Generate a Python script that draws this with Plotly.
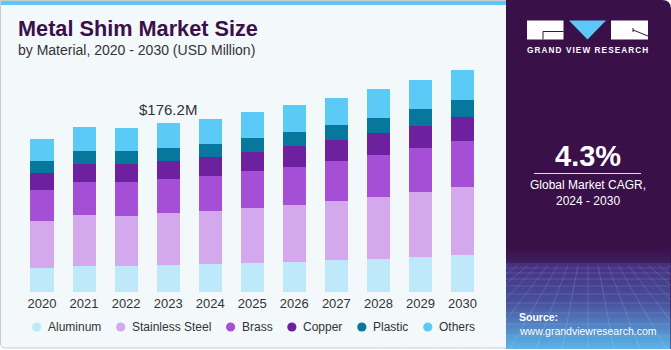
import plotly.graph_objects as go

# ---------------- data ----------------
years = ['2020', '2021', '2022', '2023', '2024', '2025', '2026', '2027', '2028', '2029', '2030']
aluminum = [25.4, 27.2, 27.5, 28.2, 29.2, 30.3, 31.6, 33.4, 34.8, 36.6, 38.6]
stainless_steel = [48.8, 53.0, 52.2, 54.0, 55.0, 57.4, 59.2, 61.3, 64.4, 67.6, 70.7]
brass = [32.4, 34.8, 35.2, 35.8, 36.9, 38.6, 40.0, 42.1, 43.6, 46.0, 48.4]
copper = [17.8, 19.1, 19.1, 19.1, 19.8, 19.8, 21.6, 21.9, 23.3, 23.6, 25.1]
plastic = [12.5, 13.3, 13.0, 13.3, 13.6, 14.6, 14.6, 15.7, 16.0, 17.4, 17.8]
others = [23.3, 24.8, 24.7, 25.8, 26.1, 26.8, 27.9, 28.2, 29.7, 30.3, 31.6]

series_names = ['Aluminum', 'Stainless Steel', 'Brass', 'Copper', 'Plastic', 'Others']
series_values = [aluminum, stainless_steel, brass, copper, plastic, others]
series_colors = ['#BDE9FA', '#D4A8EC', '#A54FD6', '#6E219E', '#08779E', '#5BCAF7']

highlight_year = '2023'
cagr_text = '4.3%'

# ---------------- helpers (pixel -> paper) ----------------
W, H = 671, 350
FONT = 'Liberation Sans, Arial, sans-serif'


def px(x):
    return x / W


def py(y):
    return 1 - y / H


def path(points):
    out = []
    for cmd, *c in points:
        if cmd in ('M', 'L'):
            out.append(f"{cmd}{px(c[0]):.5f},{py(c[1]):.5f}")
        elif cmd == 'Q':
            out.append(f"Q{px(c[0]):.5f},{py(c[1]):.5f} {px(c[2]):.5f},{py(c[3]):.5f}")
        elif cmd == 'Z':
            out.append('Z')
    return ' '.join(out)


fig = go.Figure()
for name, vals, col in zip(series_names, series_values, series_colors):
    fig.add_trace(go.Bar(x=years, y=vals, name=name, marker=dict(color=col, line=dict(width=0)),
                         hoverinfo='x+y+name'))

shapes = []
annotations = []

# left panel background
shapes.append(dict(type='path', xref='paper', yref='paper', layer='below',
                   path=path([('M', 0.5, 0.5), ('L', 520, 0.5), ('L', 520, 348), ('L', 5, 348),
                              ('Q', 0.5, 348, 0.5, 343), ('Z',)]),
                   fillcolor='#F3F8FB', line=dict(color='#C9CDD0', width=1)))
# top blue band
shapes.append(dict(type='rect', xref='paper', yref='paper', layer='below',
                   x0=px(1), x1=px(520), y0=py(1), y1=py(5), fillcolor='#5BC8F5', line=dict(width=0)))

# right panel (dark purple with rounded top-right corner)
shapes.append(dict(type='path', xref='paper', yref='paper', layer='below',
                   path=path([('M', 506, 0), ('L', 662, 0), ('Q', 671, 0, 671, 9), ('L', 671, 349),
                              ('L', 506, 349), ('Z',)]),
                   fillcolor='#3A1049', line=dict(width=0)))


def lerp(c1, c2, t):
    a = [int(c1[i:i + 2], 16) for i in (1, 3, 5)]
    b = [int(c2[i:i + 2], 16) for i in (1, 3, 5)]
    return '#%02X%02X%02X' % tuple(round(a[i] + (b[i] - a[i]) * t) for i in range(3))


for i in range(8):
    y0 = 247 + i * 2
    shapes.append(dict(type='rect', xref='paper', yref='paper', layer='below',
                       x0=px(506), x1=px(670.5), y0=py(y0), y1=py(y0 + 2),
                       fillcolor=lerp('#3A1049', '#3E1E5E', i / 7), line=dict(width=0)))
n = 43
for i in range(n):
    y0 = 263 + i * 2
    t = i / (n - 1)
    if t < 0.45:
        col = lerp('#443080', '#48509C', t / 0.45)
    else:
        col = lerp('#48509C', '#5AB3E6', (t - 0.45) / 0.55)
    shapes.append(dict(type='rect', xref='paper', yref='paper', layer='below',
                       x0=px(506), x1=px(670.5), y0=py(y0), y1=py(min(y0 + 2, 349)),
                       fillcolor=col, line=dict(width=0)))
for yy in [268, 273, 279, 286, 294, 303, 313, 324, 336]:
    shapes.append(dict(type='line', xref='paper', yref='paper', layer='below',
                       x0=px(506), x1=px(670), y0=py(yy), y1=py(yy),
                       line=dict(color='rgba(255,255,255,0.13)', width=1)))
for k in range(-8, 9):
    xt = 588 + k * 10
    xb = 588 + k * 26
    shapes.append(dict(type='line', xref='paper', yref='paper', layer='below',
                       x0=px(xt), x1=px(xb), y0=py(265), y1=py(349),
                       line=dict(color='rgba(255,255,255,0.13)', width=1)))

# logo blocks
shapes.append(dict(type='rect', xref='paper', yref='paper', layer='below',
                   x0=px(527), x1=px(563.5), y0=py(20.5), y1=py(39.5), fillcolor='#FFFFFF', line=dict(width=0)))
shapes.append(dict(type='path', xref='paper', yref='paper', layer='below',
                   path=path([('M', 543, 39.5), ('L', 543, 31.5), ('L', 563.5, 31.5)]),
                   line=dict(color='#3A1049', width=1)))
shapes.append(dict(type='path', xref='paper', yref='paper', layer='below',
                   path=path([('M', 569, 20.5), ('L', 606, 20.5), ('L', 587.5, 39.5), ('Z',)]),
                   fillcolor='#5BC8F5', line=dict(width=0)))
shapes.append(dict(type='rect', xref='paper', yref='paper', layer='below',
                   x0=px(611), x1=px(648), y0=py(20.5), y1=py(39.5), fillcolor='#FFFFFF', line=dict(width=0)))
shapes.append(dict(type='path', xref='paper', yref='paper', layer='below',
                   path=path([('M', 633, 30), ('L', 648, 36)]),
                   line=dict(color='#3A1049', width=1)))
shapes.append(dict(type='line', xref='paper', yref='paper', layer='below',
                   x0=px(633), x1=px(633), y0=py(28), y1=py(32),
                   line=dict(color='#3A1049', width=1)))

# CAGR separator line
shapes.append(dict(type='line', xref='paper', yref='paper', layer='below',
                   x0=px(534), x1=px(641), y0=py(173.5), y1=py(173.5),
                   line=dict(color='rgba(255,255,255,0.85)', width=1)))

# ---------------- texts ----------------
annotations.append(dict(xref='paper', yref='paper', x=px(16), y=py(29), xanchor='left', yanchor='middle',
                        text='<b>Metal Shim Market Size</b>', showarrow=False,
                        font=dict(family=FONT, size=21.7, color='#3A1049')))
annotations.append(dict(xref='paper', yref='paper', x=px(16), y=py(50), xanchor='left', yanchor='middle',
                        text='by Material, 2020 - 2030 (USD Million)', showarrow=False,
                        font=dict(family=FONT, size=14, color='#333333')))

hi = years.index(highlight_year)
hi_total = sum(v[hi] for v in series_values)
annotations.append(dict(x=hi, y=hi_total, xref='x', yref='y', yanchor='bottom', yshift=3,
                        text=f'${hi_total:.1f}M', showarrow=False,
                        font=dict(family=FONT, size=15, color='#333333')))

annotations.append(dict(xref='paper', yref='paper', x=px(587.5), y=py(50.5), xanchor='center', yanchor='middle',
                        text='<b><span style="letter-spacing:1.1px">GRAND VIEW RESEARCH</span></b>',
                        showarrow=False, font=dict(family=FONT, size=8.2, color='#FFFFFF')))
annotations.append(dict(xref='paper', yref='paper', x=px(587.5), y=py(156), xanchor='center', yanchor='middle',
                        text=f'<b>{cagr_text}</b>', showarrow=False,
                        font=dict(family=FONT, size=29, color='#FFFFFF')))
annotations.append(dict(xref='paper', yref='paper', x=px(587.5), y=py(185), xanchor='center', yanchor='middle',
                        text='Global Market CAGR,', showarrow=False,
                        font=dict(family=FONT, size=12, color='#FFFFFF')))
annotations.append(dict(xref='paper', yref='paper', x=px(587.5), y=py(201), xanchor='center', yanchor='middle',
                        text='2024 - 2030', showarrow=False,
                        font=dict(family=FONT, size=12, color='#FFFFFF')))
annotations.append(dict(xref='paper', yref='paper', x=px(517), y=py(316.5), xanchor='left', yanchor='middle',
                        text='<b>Source:</b>', showarrow=False,
                        font=dict(family=FONT, size=10.5, color='#FFFFFF')))
annotations.append(dict(xref='paper', yref='paper', x=px(517), y=py(330.5), xanchor='left', yanchor='middle',
                        text='www.grandviewresearch.com', showarrow=False,
                        font=dict(family=FONT, size=10.5, color='#FFFFFF')))

# ---------------- custom legend (circle symbols) ----------------
AW = {' ': 278, 'A': 667, 'B': 667, 'C': 722, 'O': 778, 'P': 667, 'S': 667, 'a': 556, 'c': 500,
      'e': 556, 'h': 556, 'i': 222, 'l': 222, 'm': 833, 'n': 556, 'o': 556, 'p': 556, 'r': 333,
      's': 500, 't': 278, 'u': 556}
LEG_SIZE = 12


def text_w(s, size):
    return sum(AW.get(c, 556) for c in s) * size / 1000


lx = 36.7
ly = 327
for name, col in zip(series_names, series_colors):
    shapes.append(dict(type='circle', xref='paper', yref='paper', layer='above',
                       x0=px(lx - 4.6), x1=px(lx + 4.6), y0=py(ly - 4.6), y1=py(ly + 4.6),
                       fillcolor=col, line=dict(width=0)))
    annotations.append(dict(xref='paper', yref='paper', x=px(lx + 9), y=py(ly), xanchor='left', yanchor='middle',
                            text=name, showarrow=False,
                            font=dict(family=FONT, size=LEG_SIZE, color='#333333')))
    lx += 30.6 + text_w(name, LEG_SIZE)

fig.update_layout(
    width=W, height=H, autosize=False,
    margin=dict(l=0, r=0, t=0, b=0, pad=0),
    paper_bgcolor='#FFFFFF', plot_bgcolor='rgba(0,0,0,0)',
    barmode='stack', bargap=0.45, showlegend=False,
    font=dict(family=FONT),
    xaxis=dict(domain=[px(21), px(483.5)], type='category', range=[-0.5, len(years) - 0.5],
               showgrid=False, zeroline=False, showline=False, ticks='', fixedrange=True,
               ticklabelstandoff=2,
               tickfont=dict(family=FONT, size=13, color='#333333')),
    yaxis=dict(domain=[py(292), py(60)], range=[0, 242.3], visible=False, fixedrange=True),
    shapes=shapes, annotations=annotations,
)

fig.write_html('out.html', config=dict(displayModeBar=False))
